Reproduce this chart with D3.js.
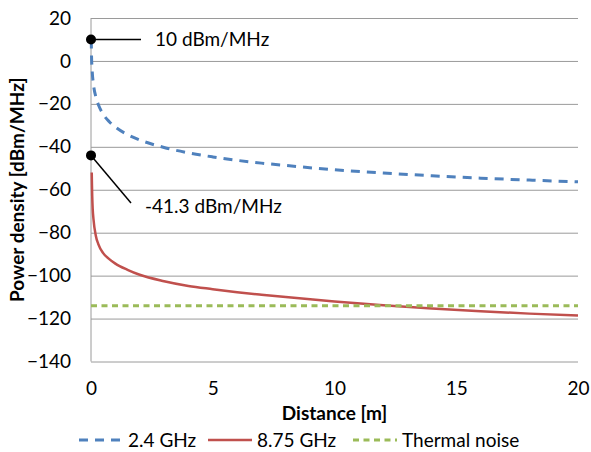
<!DOCTYPE html>
<html>
<head>
<meta charset="utf-8">
<script src="https://cdn.jsdelivr.net/npm/d3@7"></script>
<style>
  body { margin: 0; background: #fff; }
  text { font-family: Lato, "Open Sans", sans-serif; fill: #000; }
</style>
</head>
<body>
<script>
var svgWidth = 591;
var svgHeight = 452;

// values
var distance24 = [0.01, 0.02, 0.05, 0.1, 0.2, 0.3, 0.5, 0.75, 1, 1.5, 2, 3, 4, 5, 6, 7, 8, 10, 12, 14, 16, 18, 20];
var power24 = [10, 3.2, -4.8, -10.8, -16.8, -20.3, -24.8, -28.3, -30.8, -34.3, -36.8, -40.3, -42.8, -44.7, -46.3, -47.6, -48.7, -50.7, -52.2, -53.5, -54.6, -55.5, -56.3];

var distance875 = [0.03, 0.04, 0.05, 0.07, 0.1, 0.2, 0.3, 0.5, 0.75, 1, 1.5, 2, 3, 4, 5, 6, 7, 8, 10, 12, 14, 16, 18, 20];
var power875 = [-52, -58, -63, -69, -73.5, -81.5, -85.3, -89.5, -92.3, -94.4, -97.3, -99.6, -102.6, -104.8, -106.3, -107.7, -108.9, -110, -112, -113.8, -115.3, -116.6, -117.7, -118.6];

var thermalDistance = [0, 20];
var thermalPower = [-114, -114];

var xTicks = [0, 5, 10, 15, 20];
var yTicks = [20, 0, -20, -40, -60, -80, -100, -120, -140];

var markerPower = [10, -44];
var markerLabels = ['10 dBm/MHz', '-41.3 dBm/MHz'];

var seriesNames = ['2.4 GHz', '8.75 GHz', 'Thermal noise'];

var svg = d3.select('body').append('svg')
  .attr('width', svgWidth)
  .attr('height', svgHeight);

var x = d3.scaleLinear().domain([0, 20]).range([91, 578]);
var y = d3.scaleLinear().domain([20, -140]).range([18, 361.5]);

// gridlines
svg.append('g')
  .attr('transform', 'translate(' + x(0) + ',0)')
  .call(d3.axisLeft(y).tickValues(yTicks).tickSize(-(x(20) - x(0))).tickFormat(''))
  .call(function(g){
    g.select('.domain').remove();
    g.selectAll('line').attr('stroke', '#9a9a9a').attr('stroke-width', 1);
  });

// left axis line
svg.append('line')
  .attr('x1', x(0)).attr('x2', x(0))
  .attr('y1', y(20)).attr('y2', y(-140))
  .attr('stroke', '#9a9a9a');

// y tick labels
svg.append('g')
  .attr('transform', 'translate(' + x(0) + ',0)')
  .call(d3.axisLeft(y).tickValues(yTicks).tickSize(0).tickPadding(20).tickFormat(d3.format('d')))
  .call(function(g){
    g.select('.domain').remove();
    g.selectAll('text').style('font-size', '19px').attr('font-family', 'Lato');
  });

// x tick labels
svg.append('g')
  .attr('transform', 'translate(0,' + y(-140) + ')')
  .call(d3.axisBottom(x).tickValues(xTicks).tickSize(0).tickPadding(20))
  .call(function(g){
    g.select('.domain').remove();
    g.selectAll('text').style('font-size', '19px').attr('font-family', 'Lato');
  });

// axis titles
svg.append('text').text('Distance [m]')
  .attr('x', (x(0) + x(20)) / 2).attr('y', 420)
  .attr('text-anchor', 'middle')
  .style('font-size', '19px').style('font-weight', 'bold');

svg.append('text').text('Power density [dBm/MHz]')
  .attr('transform', 'translate(24,' + (y(20) + y(-140)) / 2 + ') rotate(-90)')
  .attr('text-anchor', 'middle')
  .style('font-size', '19px').style('font-weight', 'bold');

var line = d3.line()
  .x(function(d){ return x(d[0]); })
  .y(function(d){ return y(d[1]); })
  .curve(d3.curveMonotoneX);

var series = [
  { pts: d3.zip(distance24, power24), color: '#4F81BD', dash: '9,7', width: 3 },
  { pts: d3.zip(distance875, power875), color: '#C0504D', dash: null, width: 2.5 },
  { pts: d3.zip(thermalDistance, thermalPower), color: '#9BBB59', dash: '6,4.5', width: 3 }
];

series.forEach(function(s){
  svg.append('path')
    .attr('d', line(s.pts))
    .attr('fill', 'none')
    .attr('stroke', s.color)
    .attr('stroke-width', s.width)
    .attr('stroke-dasharray', s.dash);
});

// annotations
svg.append('line')
  .attr('x1', x(0)).attr('y1', y(markerPower[0]))
  .attr('x2', 141).attr('y2', y(markerPower[0]))
  .attr('stroke', '#000').attr('stroke-width', 1.5);
svg.append('text').text(markerLabels[0])
  .attr('x', 155).attr('y', y(markerPower[0]))
  .attr('dy', '0.35em')
  .style('font-size', '19px');

svg.append('line')
  .attr('x1', x(0)).attr('y1', y(markerPower[1]))
  .attr('x2', 131).attr('y2', 203)
  .attr('stroke', '#000').attr('stroke-width', 1.5);
svg.append('text').text(markerLabels[1])
  .attr('x', 145).attr('y', 206)
  .attr('dy', '0.35em')
  .style('font-size', '19px');

svg.selectAll('circle.marker').data(markerPower)
  .enter().append('circle')
  .attr('cx', x(0))
  .attr('cy', function(d){ return y(d); })
  .attr('r', 5)
  .attr('fill', '#000');

// legend
var legendX = [79, 208, 353];
var legendY = 440;
series.forEach(function(s, i){
  svg.append('line')
    .attr('x1', legendX[i]).attr('x2', legendX[i] + 44)
    .attr('y1', legendY).attr('y2', legendY)
    .attr('stroke', s.color)
    .attr('stroke-width', s.width)
    .attr('stroke-dasharray', s.dash);
  svg.append('text').text(seriesNames[i])
    .attr('x', legendX[i] + 49).attr('y', legendY)
    .attr('dy', '0.35em')
    .style('font-size', '19px');
});
</script>
</body>
</html>
